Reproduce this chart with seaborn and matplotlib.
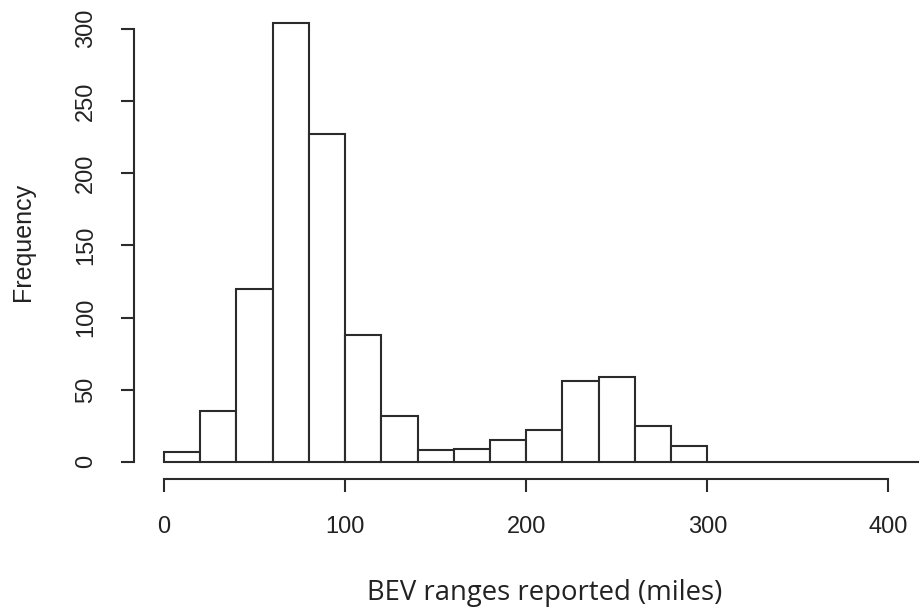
import numpy as np
import pandas as pd
import matplotlib
matplotlib.use("Agg")
import matplotlib.pyplot as plt
import seaborn as sns

# Histogram data (bins of 20 miles)
bin_edges = [0, 20, 40, 60, 80, 100, 120, 140, 160, 180, 200, 220, 240, 260, 280, 300,
             320, 340, 360, 380, 400, 420]
counts = [7, 35, 120, 304, 227, 88, 32, 8, 9, 15, 22, 56, 59, 25, 11,
          0, 0, 0, 0, 0, 0]
x_ticks = [0, 100, 200, 300, 400]
y_ticks = [0, 50, 100, 150, 200, 250, 300]
x_label = "BEV ranges reported (miles)"
y_label = "Frequency"

sns.set_style("white")
plt.rcParams['font.family'] = ['Liberation Sans', 'DejaVu Sans']

centers = [(a + b) / 2 for a, b in zip(bin_edges[:-1], bin_edges[1:])]
df = pd.DataFrame({"range": centers, "count": counts})

fig = plt.figure(figsize=(9.19, 6.16), dpi=100)
ax = fig.add_axes([0.1454, 0.2216, 0.8938, 0.772])

line_col = "#2b2b2b"
sns.histplot(data=df, x="range", weights="count", bins=bin_edges, ax=ax,
             color="white", edgecolor=line_col, linewidth=1.5, alpha=1)

ax.set_xlim(-16.8, 436.8)
ax.set_ylim(-12.2, 317.2)

for s in ["top", "right"]:
    ax.spines[s].set_visible(False)
ax.spines["left"].set_bounds(0, 300)
ax.spines["bottom"].set_bounds(0, 400)
for s in ["left", "bottom"]:
    ax.spines[s].set_color(line_col)
    ax.spines[s].set_linewidth(1.5)

ax.set_xticks(x_ticks)
ax.set_yticks(y_ticks)
ax.tick_params(axis="both", direction="out", length=9.5, width=1.5, color=line_col,
               labelsize=17, labelcolor="#222222", pad=17, left=True, bottom=True)
plt.setp(ax.get_yticklabels(), rotation=90, va="center", ha="right")

ax.set_xlabel(x_label, fontsize=19.8, family=['Open Sans', 'DejaVu Sans'], color="#222222", va="center")
ax.xaxis.set_label_coords(0.5, -0.239)
ax.set_ylabel(y_label, fontsize=18, color="#222222", va="center")
ax.yaxis.set_label_coords(-0.1346, 0.5)

fig.savefig("out.png", dpi=100)
